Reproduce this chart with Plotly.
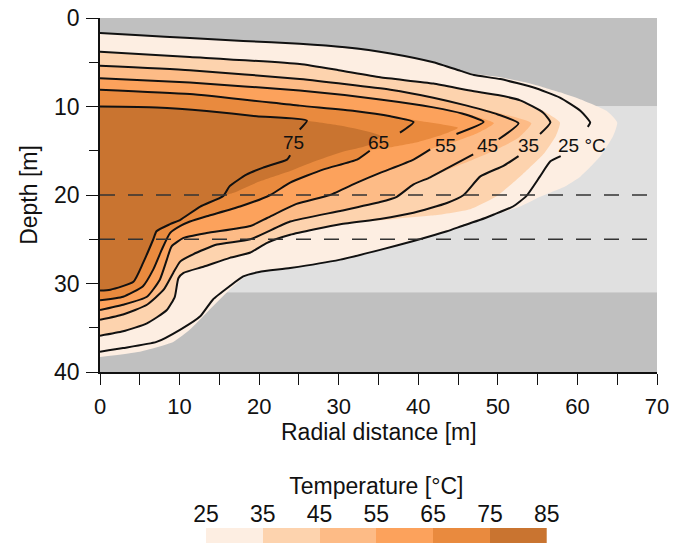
import plotly.graph_objects as go

# ---------------- data ----------------
# ground layers (depth, m)
layer_top = [0, 10, 31]
layer_bottom = [10, 31, 40]
layer_colors = ['#c0c0c0', '#e0e0e0', '#c0c0c0']

# dashed interfaces (depth, m)
interface_depths = [20, 25]

# temperature classes (°C)
levels = [25, 35, 45, 55, 65, 75, 85]
level_colors = ['#fdeee2', '#fdd3ae', '#fdbb86', '#fca25c', '#e98a3e', '#c97430']

# filled temperature zones: outline of region T >= level (radial distance r, depth z)
fill25_r = [0, 11.3, 25.1, 36.5, 41.9, 46.1, 50.3, 54.5, 57.8, 60.4, 63.7, 65.0, 64.5, 62.9, 60.4, 58.5, 55.3, 52.8,
            49.0, 45.7, 42.8, 39.4, 35.2, 30.2, 23.9, 18.9, 17.2, 15.6, 13.4, 11.3, 9.2, 5.0, 0]
fill25_z = [1.7, 2.27, 2.9, 4.0, 5.0, 6.2, 6.7, 7.5, 8.4, 9.2, 10.5, 11.8, 13.3, 15.6, 17.9, 19.0, 20.2, 21.3,
            22.4, 23.5, 24.3, 25.2, 26.2, 27.3, 28.25, 28.8, 29.95, 31.3, 33.3, 35.2, 36.6, 37.7, 38.3]

fill35_r = [0, 11.3, 25.1, 30, 35.2, 41.9, 46.5, 50, 52.8, 55.5, 57.8, 57.3, 55.8, 52.8, 49.9, 46.5, 42, 37, 30.2,
            23.9, 21, 18.9, 16.3, 13.0, 10.5, 9.85, 9.4, 8.4, 5.9, 2.9, 0]
fill35_z = [3.8, 4.4, 5.2, 5.9, 6.7, 7.4, 8.2, 8.7, 9.3, 10.4, 11.8, 13.3, 15.3, 17.9, 20.1, 21.6, 22.3, 22.7, 23.3,
            24.5, 25.4, 26.5, 27.1, 28.1, 28.8, 29.4, 31.5, 33.0, 34.5, 35.4, 35.9]

fill45_r = [0, 11.3, 25.1, 36.5, 41.9, 46.1, 50, 54.2, 52.5, 49.5, 46.9, 43.6, 41.5, 39.4, 37.3, 35.2, 30.2, 23.9,
            18.9, 14.7, 11.7, 10.1, 9.2, 8.0, 5.9, 2.9, 0]
fill45_z = [5.4, 5.9, 6.9, 8.1, 9.0, 9.9, 10.7, 11.9, 13.6, 15.0, 16.0, 17.2, 18.0, 18.8, 20.2, 20.8, 21.8, 23.0,
            25.0, 25.6, 26.7, 27.5, 28.8, 30.7, 32.4, 33.5, 34.1]

fill55_r = [0, 11.3, 25.1, 35.2, 41.9, 46, 49.5, 47.5, 44.5, 41.5, 39.4, 35.2, 32.3, 28.9, 24.7, 21, 18.9, 13.4,
            10.5, 9.0, 8.4, 7.5, 5.9, 2.9, 0]
fill55_z = [6.8, 7.3, 8.2, 9.2, 10.1, 10.8, 11.9, 13.0, 14.0, 14.85, 16.0, 17.5, 18.6, 20.0, 21.0, 22.6, 23.5, 24.3,
            24.85, 25.8, 27.3, 29.6, 31.5, 32.4, 33.0]

fill65_r = [0, 11.3, 25.1, 32, 36.5, 40, 45, 43, 40, 36.5, 33.9, 32.3, 28.1, 23.9, 21.4, 17.6, 13.4, 11.3, 10.1,
            8.8, 7.75, 6.7, 5.4, 2.9, 0]
fill65_z = [8.1, 8.6, 9.9, 10.5, 11.1, 11.6, 12.4, 13.2, 14.0, 14.6, 15.0, 16.0, 17.1, 18.6, 20.0, 21.3, 22.4, 23.0,
            23.5, 24.3, 26.2, 28.4, 30.3, 31.5, 31.9]

fill75_r = [0, 7.1, 13.4, 19.7, 26.0, 30.5, 35.2, 34.0, 30.2, 27.0, 23.9, 19.7, 16.8, 15.5, 12.6, 10.1, 8.8, 7.1,
            6.7, 5.4, 4.2, 1.3, 0]
fill75_z = [10.0, 10.1, 10.5, 11.1, 11.6, 12.2, 13.3, 14.3, 15.2, 16.2, 17.3, 18.6, 19.75, 20.1, 21.3, 22.8, 23.3,
            24.1, 25.0, 27.7, 29.8, 30.7, 30.8]

# isotherm lines (None = gap for the label)
iso25_r = [0, 5, 11.3, 18, 25.1, 30.8, 36.5, 41.9, 45.3, 47.0, 50.3, 54.5, 57.8, 60.4, 61.6, 61.3, None,
           57.9, 56.6, 55.3, 53.6, 51.9, 49.5, 47.8, 45.5, 43.6, 39.4, 35.2, 30.2, 23.9, 20, 18.0, 16.3, 14.2,
           12.6, 10.1, 7.1, 2.9, 0]
iso25_z = [1.7, 1.95, 2.27, 2.6, 2.9, 3.3, 4.0, 5.0, 5.97, 6.45, 6.9, 7.86, 9.0, 10.5, 11.8, 12.3, None,
           15.6, 16.2, 17.9, 20.1, 21.3, 22.2, 22.8, 23.5, 24.1, 25.2, 26.2, 27.3, 28.25, 28.7, 29.2, 30.3, 31.8,
           33.7, 35.2, 36.6, 37.3, 37.7]

iso35_r = [0, 11.3, 25.1, 30, 35.2, 41.9, 46.5, 50, 52.8, 55.7, 56.6, 55.3, None,
           52.6, 50.7, 47.8, 45.7, 43.6, 39.4, 35.2, 30.2, 23.9, 21, 18.9, 16.3, 13.0, 10.5, 9.85, 9.4, 8.4, 5.9,
           2.9, 0]
iso35_z = [3.8, 4.4, 5.2, 5.9, 6.7, 7.4, 8.2, 8.7, 9.3, 10.7, 11.8, 13.1, None,
           15.6, 16.7, 17.9, 20.0, 20.9, 22.0, 22.7, 23.3, 24.5, 25.4, 26.5, 27.1, 28.1, 28.8, 29.4, 31.5, 33.0, 34.5,
           35.4, 35.9]

iso45_r = [0, 11.3, 25.1, 36.5, 41.9, 46.1, 50, 52.6, 50.1, None,
           46.9, 43.6, 41.5, 39.4, 37.3, 35.2, 30.2, 23.9, 18.9, 14.7, 11.7, 10.1, 9.2, 8.0, 5.9, 2.9, 0]
iso45_z = [5.4, 5.9, 6.9, 8.1, 9.0, 9.9, 10.9, 11.9, 13.7, None,
           15.4, 17.0, 18.0, 18.8, 20.2, 20.8, 21.8, 23.0, 25.0, 25.6, 26.7, 27.5, 28.8, 30.7, 32.4, 33.5, 34.1]

iso55_r = [0, 11.3, 25.1, 35.2, 41.9, 45.5, 48.2, 44.8, None,
           41.5, 39.4, 35.2, 32.3, 28.9, 24.7, 21, 18.9, 13.4, 10.5, 9.0, 8.4, 7.5, 5.9, 2.9, 0]
iso55_z = [6.8, 7.3, 8.2, 9.2, 10.1, 10.8, 11.75, 13.1, None,
           14.85, 16.0, 17.5, 18.6, 20.0, 21.0, 22.6, 23.5, 24.3, 24.85, 25.8, 27.3, 29.6, 31.5, 32.4, 33.0]

iso65_r = [0, 11.3, 25.1, 32, 36.5, 39.4, 37.7, None,
           33.9, 32.3, 28.1, 23.9, 21.4, 17.6, 13.4, 11.3, 10.1, 8.8, 7.75, 6.7, 5.4, 2.9, 0]
iso65_z = [8.1, 8.6, 9.9, 10.5, 11.1, 11.75, 12.95, None,
           15.0, 16.0, 17.1, 18.6, 20.0, 21.3, 22.4, 23.0, 23.5, 24.3, 26.2, 28.4, 30.3, 31.5, 31.9]

iso75_r = [0, 7.1, 13.4, 19.7, 26.0, 25.1, None,
           23.9, 23.5, 20.5, 18.4, 16.3, 15.5, 12.6, 10.1, 8.8, 7.1, 6.7, 5.4, 4.2, 1.3, 0]
iso75_z = [10.0, 10.1, 10.5, 11.1, 11.6, 12.6, None,
           15.5, 16.0, 16.9, 17.7, 19.0, 20.1, 21.3, 22.8, 23.3, 24.1, 25.0, 27.7, 29.8, 30.7, 30.8]

# isotherm labels
label_text = ['25 °C', '35', '45', '55', '65', '75']
label_r = [60.6, 53.9, 48.7, 43.4, 35.0, 24.3]
label_z = [14.35, 14.35, 14.35, 14.35, 14.1, 14.1]

# colour bar classes
bar_centers = [30, 40, 50, 60, 70, 80]

# ---------------- figure ----------------
FONT = 'Liberation Sans, Arial, sans-serif'
fig = go.Figure()

fills = [(fill25_r, fill25_z), (fill35_r, fill35_z), (fill45_r, fill45_z),
         (fill55_r, fill55_z), (fill65_r, fill65_z), (fill75_r, fill75_z)]
for (r, z), col in zip(fills, level_colors):
    fig.add_trace(go.Scatter(x=r, y=z, mode='lines', fill='toself', fillcolor=col,
                             line=dict(width=0, color=col, shape='spline', smoothing=0.5),
                             hoverinfo='skip', showlegend=False))

isos = [(iso25_r, iso25_z), (iso35_r, iso35_z), (iso45_r, iso45_z),
        (iso55_r, iso55_z), (iso65_r, iso65_z), (iso75_r, iso75_z)]
for r, z in isos:
    fig.add_trace(go.Scatter(x=r, y=z, mode='lines', connectgaps=False,
                             line=dict(width=2, color='#111111', shape='spline', smoothing=0.5),
                             hoverinfo='skip', showlegend=False))

for d in interface_depths:
    fig.add_trace(go.Scatter(x=[0, 70], y=[d, d], mode='lines',
                             line=dict(width=1.5, color='#333333', dash='15px,13px'),
                             hoverinfo='skip', showlegend=False))

# colour bar as a heatmap in its own axes
scale = []
n = len(level_colors)
for i, c in enumerate(level_colors):
    scale.append([i / n, c])
    scale.append([(i + 1) / n, c])
fig.add_trace(go.Heatmap(x=bar_centers, y=[0], z=[bar_centers], colorscale=scale,
                         zmin=levels[0], zmax=levels[-1], showscale=False,
                         xaxis='x2', yaxis='y2', hoverinfo='skip'))

shapes = []
for t, b, c in zip(layer_top, layer_bottom, layer_colors):
    shapes.append(dict(type='rect', xref='x', yref='y', x0=0, x1=70, y0=t, y1=b,
                       fillcolor=c, line=dict(width=0), layer='below'))

annotations = []
for txt, r, z in zip(label_text, label_r, label_z):
    annotations.append(dict(x=r, y=z, xref='x', yref='y', text=txt, showarrow=False,
                            font=dict(family=FONT, size=19, color='#111111')))
# x-axis title
annotations.append(dict(x=0.5, y=0.2105, xref='paper', yref='paper', text='Radial distance [m]',
                        showarrow=False, xanchor='center', yanchor='middle',
                        font=dict(family=FONT, size=23, color='#111111')))

fig.update_layout(
    template='none',
    width=680, height=543,
    margin=dict(l=100, r=23, t=18, b=0, autoexpand=False),
    paper_bgcolor='white', plot_bgcolor='white',
    font=dict(family=FONT, size=23, color='#111111'),
    shapes=shapes, annotations=annotations,
    xaxis=dict(domain=[0, 1], range=[0, 70], anchor='y', automargin=False,
               tickvals=[0, 10, 20, 30, 40, 50, 60, 70], ticks='outside', ticklen=11, tickwidth=1.3,
               tickcolor='#111111', minor=dict(dtick=5, ticks='outside', ticklen=11, tickwidth=1.3,
                                               tickcolor='#111111', showgrid=False),
               showline=True, linecolor='#111111', linewidth=1.5, showgrid=False, zeroline=False,
               tickfont=dict(size=22), ticklabelstandoff=3),
    yaxis=dict(domain=[0.3257, 1], range=[40, 0], anchor='x', automargin=False,
               tickvals=[0, 10, 20, 30, 40], ticks='outside', ticklen=12, tickwidth=1.3,
               tickcolor='#111111', minor=dict(dtick=5, ticks='outside', ticklen=9, tickwidth=1.3,
                                               tickcolor='#111111', showgrid=False),
               showline=True, linecolor='#111111', linewidth=1.5, showgrid=False, zeroline=False,
               tickfont=dict(size=23), ticklabelstandoff=2,
               title=dict(text='Depth [m]', font=dict(size=23), standoff=10)),
    xaxis2=dict(domain=[0.1903, 0.8020], range=[25, 85], anchor='y2', side='top', automargin=False,
                tickvals=levels, ticks='', showline=False, showgrid=False, zeroline=False,
                tickfont=dict(size=23), ticklabelstandoff=0,
                title=dict(text='Temperature [°C]', font=dict(size=23), standoff=0)),
    yaxis2=dict(domain=[0, 0.0286], range=[-0.5, 0.5], anchor='x2', visible=False, automargin=False),
)

fig.write_html('out.html')
